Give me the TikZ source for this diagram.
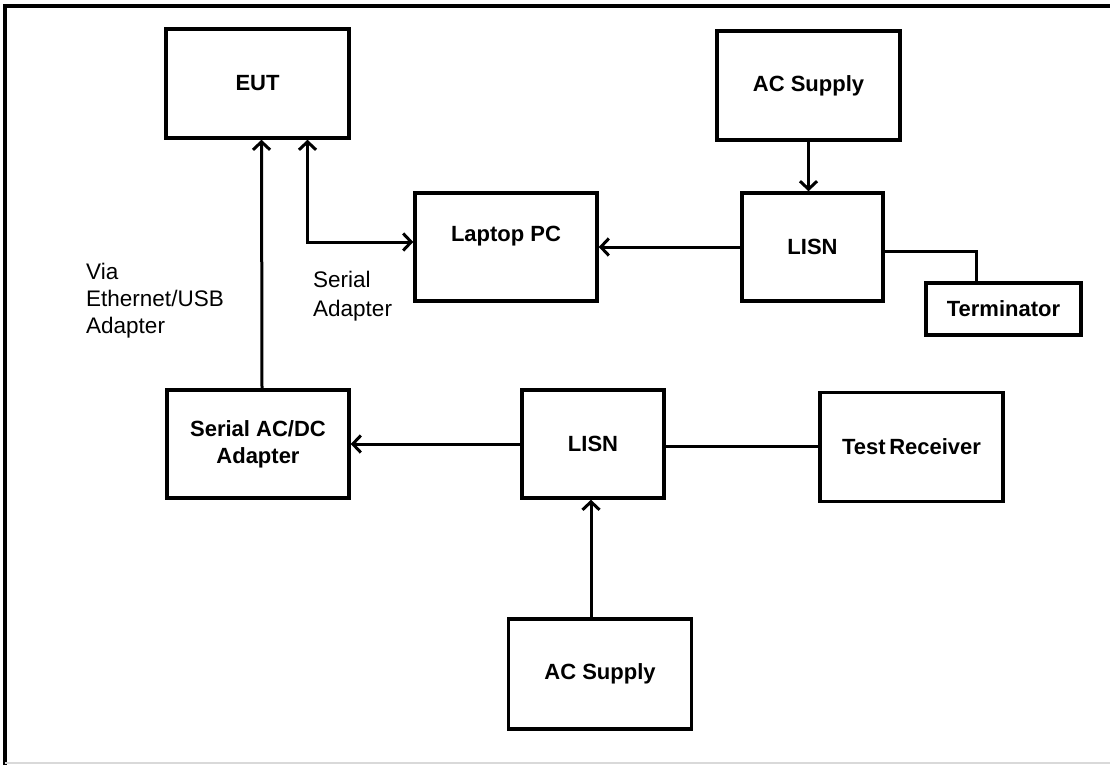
\documentclass[tikz,border=0pt]{standalone}
\usepackage{fontspec}
\setmainfont{Liberation Sans}
\usepackage{tikz}
\usetikzlibrary{arrows.meta,positioning,calc}

\begin{document}
\begin{tikzpicture}[
    x=1pt, y=-1pt,
    box/.style={draw, line width=3.5pt, inner sep=0pt, align=center, font=\bfseries\fontsize{22}{27}\selectfont},
    lbl/.style={inner sep=0pt, align=left, anchor=north west, font=\fontsize{22.5}{27}\selectfont},
    arrow/.style={-{Straight Barb[length=8pt,width=17pt,line width=3pt]}, line width=3pt},
    dblarrow/.style={{Straight Barb[length=8pt,width=17pt,line width=3pt]}-{Straight Barb[length=8pt,width=17pt,line width=3pt]}, line width=3pt},
    wire/.style={line width=3pt}
]
\useasboundingbox (0,0) rectangle (1110,765);

% Frame
\draw[line width=3.5pt] (5,765) -- (5,6) -- (1110,6);
\draw[line width=2pt, black!15] (5,763) -- (1110,763);

% Upper row
\node[box, minimum width=183pt, minimum height=109pt] (eut) at (257.5,83.5) {EUT};
\node[box, minimum width=183pt, minimum height=109pt] (ac1) at (808.5,85.5) {AC Supply};
\node[box, minimum width=141pt, minimum height=108pt] (lisn1) at (812.5,247) {LISN};
\node[box, minimum width=182pt, minimum height=108pt, text height=16pt, text depth=28pt] (laptop) at (506,247) {Laptop PC};
\node[box, minimum width=155pt, minimum height=52pt] (term) at (1003.5,309) {Terminator};

% Lower row
\node[box, minimum width=182pt, minimum height=108pt] (serial) at (258,444) {Serial AC/DC\\Adapter};
\node[box, minimum width=142pt, minimum height=108pt] (lisn2) at (593,444) {LISN};
\node[box, minimum width=183pt, minimum height=109pt] (recv) at (911.5,447) {Test\,Receiver};
\node[box, minimum width=183pt, minimum height=110pt] (ac2) at (600,674) {AC Supply};

% Labels
\node[lbl] (via) at (86,263) {Via\\Ethernet/USB\\Adapter};
\node[lbl, font=\fontsize{22.5}{29}\selectfont] (serlbl) at (313,271) {Serial\\Adapter};

% Arrows
\draw[arrow] ([xshift=4pt]serial.north) -- ([xshift=4pt]eut.south);
\draw[dblarrow] ([xshift=50pt]eut.south) |- ([yshift=5pt]laptop.west);
\draw[arrow] (ac1.south) -- (ac1.south |- lisn1.north);
\draw[arrow] (lisn1.west) -- (laptop.east);
\draw[wire] ([yshift=-4pt]lisn1.east) -| ([xshift=-27pt]term.north);
\draw[arrow] (lisn2.west) -- (serial.east);
\draw[wire] ([yshift=-2pt]lisn2.east) -- ([yshift=-2pt]lisn2.east -| recv.west);
\draw[arrow] ([xshift=-2pt]lisn2.south |- ac2.north) -- ([xshift=-2pt]lisn2.south);

\end{tikzpicture}
\end{document}
